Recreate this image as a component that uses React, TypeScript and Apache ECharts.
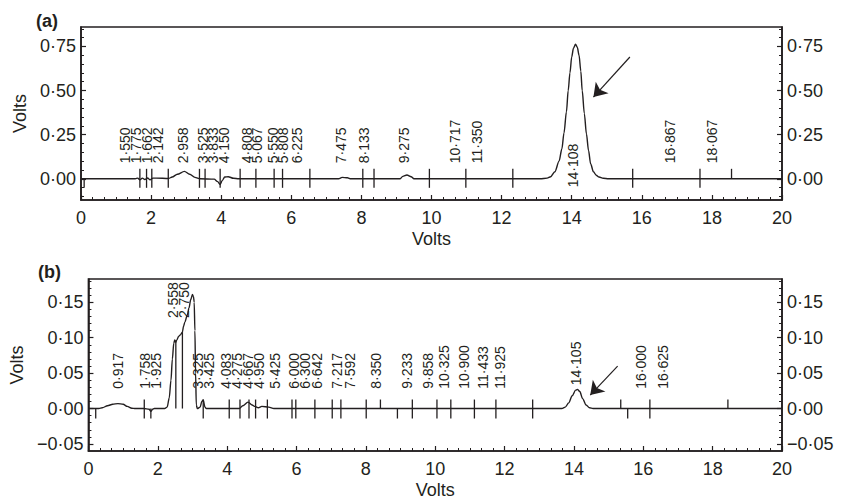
import { useEffect, useRef } from "react";
import * as echarts from "echarts";

const INK = "#231f20";
const FONT = "'Liberation Sans', Arial, Helvetica, sans-serif";

// ---- axis ranges / tick labels ----
const xRange = [0, 20];
const yRangeA = [-0.12, 0.86];
const yRangeB = [-0.06, 0.183];
const yLabelsA = [0, 0.25, 0.5, 0.75];
const yLabelsB = [-0.05, 0, 0.05, 0.1, 0.15];

// ---- chromatogram traces [time, volts] ----
const traceA: [number, number][] = [
  [0, 0], [1.55, 0], [1.62, 0.004], [1.68, -0.006], [1.75, 0.004], [1.82, -0.004], [1.9, 0.005],
  [1.97, -0.006], [2.05, 0.004], [2.15, 0.004], [2.5, 0.002], [2.6, 0.01], [2.75, 0.026],
  [2.95, 0.042], [3.1, 0.026], [3.25, 0.008], [3.4, 0], [3.8, -0.002], [3.9, -0.016],
  [3.97, -0.032], [4.03, -0.01], [4.1, 0.01], [4.2, 0.012], [4.35, 0.003], [4.5, 0],
  [7.35, 0], [7.45, 0.008], [7.6, 0.006], [7.7, 0], [9.1, 0], [9.18, 0.014], [9.3, 0.022],
  [9.42, 0.012], [9.5, 0], [13.1, 0], [13.3, 0.004], [13.4, 0.012], [13.52, 0.04],
  [13.64, 0.1], [13.72, 0.17], [13.78, 0.26], [13.85, 0.38], [13.9, 0.5], [13.95, 0.6],
  [14.0, 0.69], [14.05, 0.74], [14.11, 0.762], [14.16, 0.745], [14.21, 0.7], [14.26, 0.61],
  [14.3, 0.5], [14.36, 0.37], [14.42, 0.255], [14.48, 0.16], [14.54, 0.085], [14.62, 0.04],
  [14.7, 0.02], [14.78, 0.01], [14.9, 0.003], [15.05, 0], [20, 0],
];
const traceB: [number, number][] = [
  [0, 0], [0.3, 0], [0.4, 0.001], [0.55, 0.004], [0.7, 0.006], [0.85, 0.007], [1.0, 0.006],
  [1.12, 0.003], [1.25, 0.0005], [1.35, 0], [1.6, 0], [1.75, -0.001], [1.8, -0.004],
  [1.85, -0.001], [1.9, 0], [2.2, 0], [2.27, 0.002], [2.33, 0.015], [2.38, 0.04], [2.42, 0.07],
  [2.46, 0.092], [2.49, 0.097], [2.52, 0.094], [2.55, 0.097], [2.6, 0.102], [2.65, 0.104],
  [2.71, 0.108], [2.74, 0.116], [2.78, 0.122], [2.85, 0.132], [2.9, 0.142], [2.95, 0.154],
  [3.0, 0.161], [3.03, 0.158], [3.05, 0.15], [3.07, 0.11], [3.09, 0.05], [3.11, 0.005],
  [3.14, 0], [3.22, 0.002], [3.27, 0.01], [3.31, 0.012], [3.36, 0.002], [3.4, 0], [4.35, 0],
  [4.45, 0.004], [4.6, 0.009], [4.72, 0.005], [4.8, 0.003], [4.9, 0.001], [5.0, 0.003],
  [5.2, 0.002], [5.35, 0], [13.65, 0], [13.75, 0.002], [13.85, 0.008], [13.95, 0.018],
  [14.05, 0.026], [14.1, 0.027], [14.17, 0.024], [14.25, 0.014], [14.35, 0.005],
  [14.45, 0.001], [14.55, 0], [20, 0],
];

// ---- peak retention labels ----
const peakLabelsA = [1.55, 1.775, 1.662, 2.142, 2.958, 3.525, 3.833, 4.15, 4.808, 5.067, 5.55,
  5.808, 6.225, 7.475, 8.133, 9.275, 10.717, 11.35, 16.867, 18.067];
const inlineLabelsA = [14.108];
const peakLabelsB = [0.917, 1.758, 1.925, 2.558, 2.75, 3.325, 3.425, 4.083, 4.275, 4.667, 4.95,
  5.425, 6.0, 6.3, 6.642, 7.217, 7.592, 8.35, 9.233, 9.858, 10.325, 10.9, 11.433, 11.925,
  14.105, 16.0, 16.625];

// ---- integration event markers ----
const markersA = [1.68, 1.87, 2.02, 2.49, 3.38, 3.54, 3.97, 4.54, 4.99, 5.51, 5.75, 6.53, 8.04,
  8.36, 9.94, 10.98, 12.32, 15.74, 17.66];
const markersAUp = [18.56];
const markersADown = [0.09];
const markersB = [1.61, 3.31, 4.06, 4.37, 4.63, 4.82, 5.16, 5.87, 5.98, 6.53, 7.03, 7.28, 8.01,
  9.34, 10.05, 10.45, 11.13, 11.75, 12.81, 16.19];
const markersBUp = [8.42, 15.35, 18.44];
const markersBDown = [0.21, 1.8, 8.91, 15.55];
const dropLinesB = [2.52, 2.71];

// ---- arrows (annotation, data coords: tail -> head) ----
const arrowA: [number, number][] = [[15.66, 0.69], [14.62, 0.463]];
const arrowB: [number, number][] = [[15.26, 0.06], [14.47, 0.019]];

const fmtTick = (v: number) => (v < 0 ? "\u2212" : "") + Math.abs(v).toFixed(2).replace(".", "\u00b7");
const fmtPeak = (v: number) => v.toFixed(3).replace(".", "\u00b7");

function minorValues(lo: number, hi: number, step: number, major: number) {
  const out: number[] = [];
  const n = Math.round((hi - lo) / step);
  for (let i = 0; i <= n; i++) {
    const v = Math.round((lo + i * step) * 1000) / 1000;
    const r = v / major;
    if (Math.abs(r - Math.round(r)) > 1e-6) out.push(v);
  }
  return out;
}

function spread(vals: number[], gap: number) {
  const groups: number[][] = [];
  const start = (g: number[]) => g.reduce((s, i, k) => s + vals[i] - k * gap, 0) / g.length;
  vals.forEach((_, i) => {
    groups.push([i]);
    while (groups.length > 1) {
      const g = groups[groups.length - 1];
      const p = groups[groups.length - 2];
      const pEnd = start(p) + (p.length - 1) * gap;
      if (start(g) < pEnd + gap) groups.splice(groups.length - 2, 2, p.concat(g));
      else break;
    }
  });
  const pos: number[] = new Array(vals.length);
  groups.forEach((g) => {
    const s = start(g);
    g.forEach((i, k) => (pos[i] = s + k * gap));
  });
  return { pos, groups };
}

function peakNear(trace: [number, number][], t: number, w: number) {
  let m = 0;
  for (const [x, y] of trace) if (Math.abs(x - t) <= w && y > m) m = y;
  return m;
}

function labelPoints(vals: number[], trace: [number, number][], gap: number, minBase: number, pad: number) {
  const { pos, groups } = spread(vals, gap);
  const base: number[] = new Array(vals.length);
  groups.forEach((g) => {
    let b = minBase;
    g.forEach((i) => (b = Math.max(b, peakNear(trace, vals[i], 0.05) + pad)));
    g.forEach((i) => (base[i] = b));
  });
  return vals.map((_, i) => [pos[i], base[i]]);
}

function labelSeries(xi: number, yi: number, vals: number[], pts: number[][]) {
  const texts = vals.map(fmtPeak);
  return {
    type: "custom", xAxisIndex: xi, yAxisIndex: yi, silent: true, z: 6, clip: false,
    data: pts,
    renderItem: (params: any, api: any) => {
      const p = api.coord([api.value(0), api.value(1)]);
      return {
        type: "text", x: p[0] - 2, y: p[1], rotation: Math.PI / 2,
        style: { text: texts[params.dataIndex], fill: INK, font: `14px ${FONT}`, align: "left", verticalAlign: "middle" },
      };
    },
  };
}

function markerSeries(xi: number, yi: number, both: number[], up: number[], down: number[], hUp: number, hDown: number) {
  const data = [...both.map((t) => [t, 0]), ...up.map((t) => [t, 1]), ...down.map((t) => [t, -1])];
  return {
    type: "custom", xAxisIndex: xi, yAxisIndex: yi, silent: true, z: 5,
    encode: { x: 0 },
    data,
    renderItem: (params: any, api: any) => {
      const p = api.coord([api.value(0), 0]);
      const kind = api.value(1);
      const y1 = kind < 0 ? p[1] : p[1] - hUp;
      const y2 = kind > 0 ? p[1] : p[1] + hDown;
      return { type: "line", shape: { x1: p[0], y1, x2: p[0], y2 }, style: { stroke: INK, lineWidth: 1.3 } };
    },
  };
}

function dropSeries(xi: number, yi: number, times: number[], trace: [number, number][]) {
  const data = times.map((t) => trace.find((d) => d[0] === t) as [number, number]);
  return {
    type: "custom", xAxisIndex: xi, yAxisIndex: yi, silent: true, z: 5,
    data,
    renderItem: (params: any, api: any) => {
      const a = api.coord([api.value(0), api.value(1)]);
      const b = api.coord([api.value(0), 0]);
      return { type: "line", shape: { x1: a[0], y1: a[1], x2: b[0], y2: b[1] }, style: { stroke: INK, lineWidth: 1.3 } };
    },
  };
}

function traceSeries(xi: number, yi: number, trace: [number, number][], arrow: [number, number][]) {
  return {
    type: "line", xAxisIndex: xi, yAxisIndex: yi, data: trace, showSymbol: false, symbol: "none",
    smooth: 0.3, smoothMonotone: "x", silent: true, z: 4,
    lineStyle: { color: INK, width: 1.4 },
    markLine: {
      silent: true, symbol: ["none", "arrow"], symbolSize: 13, label: { show: false },
      lineStyle: { color: INK, width: 1.2, type: "solid" },
      emphasis: { disabled: true },
      data: [[{ coord: arrow[0] }, { coord: arrow[1] }]],
    },
  };
}

const axisText = { color: INK, fontFamily: FONT, fontSize: 18 };

function xAxisFor(gi: number) {
  return {
    gridIndex: gi, type: "value", min: xRange[0], max: xRange[1], interval: 2,
    axisLine: { show: true, onZero: false, lineStyle: { color: INK, width: 1.6 } },
    axisTick: { show: true, inside: true, length: 5, lineStyle: { color: INK, width: 1.2 } },
    minorTick: { show: true, splitNumber: 6, length: 3, lineStyle: { color: INK, width: 1 } },
    axisLabel: { ...axisText, margin: 9 },
    splitLine: { show: false }, minorSplitLine: { show: false },
    name: "Volts", nameLocation: "middle", nameGap: 30, nameTextStyle: { ...axisText },
  };
}

function yAxesFor(gi: number, range: number[], labels: number[], minor: number[], withName: boolean) {
  const common = { gridIndex: gi, type: "value", min: range[0], max: range[1], splitLine: { show: false } };
  const major = (position: string) => ({
    ...common, position,
    axisLine: { show: true, onZero: false, lineStyle: { color: INK, width: 1.6 } },
    axisTick: { show: true, inside: true, length: 5, customValues: labels, lineStyle: { color: INK, width: 1.2 } },
    axisLabel: { ...axisText, margin: 5, customValues: labels, formatter: fmtTick },
  });
  const min = (position: string) => ({
    ...common, position,
    axisLine: { show: false },
    axisTick: { show: true, inside: true, length: 3, customValues: minor, lineStyle: { color: INK, width: 1 } },
    axisLabel: { show: false },
  });
  const left: any = major("left");
  if (withName) {
    left.name = "Volts";
    left.nameLocation = "middle";
    left.nameGap = 47;
    left.nameRotate = 90;
    left.nameTextStyle = { ...axisText };
  }
  return [left, min("left"), major("right"), min("right")];
}

export default function App() {
  const ref = useRef<HTMLDivElement>(null);
  useEffect(() => {
    document.body.style.margin = "0";
    const chart = echarts.init(ref.current!, null, { renderer: "svg" });
    const ptsA = labelPoints(peakLabelsA, traceA, 0.31, 0.088, 0.01);
    const ptsAInline = inlineLabelsA.map((t) => [t, -0.048]);
    const ptsB = labelPoints(peakLabelsB, traceB, 0.31, 0.028, 0.006);
    chart.setOption({
      animation: false,
      backgroundColor: "#ffffff",
      grid: [
        { left: 81, right: 60, top: 27, height: 173, show: true, borderColor: INK, borderWidth: 1.6, backgroundColor: "transparent" },
        { left: 81, right: 60, top: 279, height: 172, show: true, borderColor: INK, borderWidth: 1.6, backgroundColor: "transparent" },
      ],
      xAxis: [xAxisFor(0), xAxisFor(1)],
      yAxis: [
        ...yAxesFor(0, yRangeA, yLabelsA, minorValues(-0.1, 0.85, 0.05, 0.25), true),
        ...yAxesFor(1, yRangeB, yLabelsB, minorValues(-0.05, 0.18, 0.01, 0.05), true),
      ],
      graphic: [
        { type: "text", left: 36, top: 12, style: { text: "(a)", fill: INK, font: `bold 18px ${FONT}` } },
        { type: "text", left: 38, top: 263, style: { text: "(b)", fill: INK, font: `bold 18px ${FONT}` } },
      ],
      series: [
        traceSeries(0, 0, traceA, arrowA),
        markerSeries(0, 0, markersA, markersAUp, markersADown, 10, 9),
        labelSeries(0, 0, peakLabelsA, ptsA),
        labelSeries(0, 0, inlineLabelsA, ptsAInline),
        traceSeries(1, 4, traceB, arrowB),
        markerSeries(1, 4, markersB, markersBUp, markersBDown, 9, 10),
        dropSeries(1, 4, dropLinesB, traceB),
        labelSeries(1, 4, peakLabelsB, ptsB),
      ],
    });
    return () => chart.dispose();
  }, []);
  return <div ref={ref} style={{ width: 842, height: 501 }} />;
}
